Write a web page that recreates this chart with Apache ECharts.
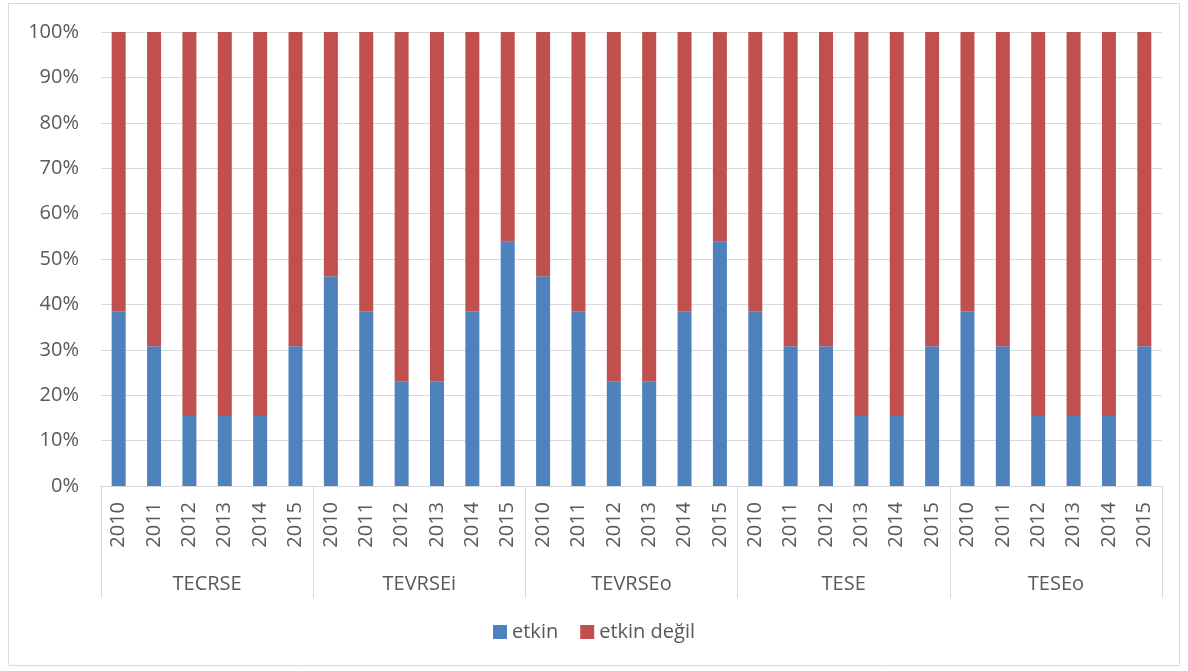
<!DOCTYPE html>
<html>
<head>
<meta charset="utf-8">
<script src="https://cdn.jsdelivr.net/npm/echarts@6/dist/echarts.min.js"></script>
<style>html,body{margin:0;padding:0;background:#fff}#c{width:1188px;height:671px}</style>
</head>
<body>
<div id="c"></div>
<script>
var groups = ['TECRSE', 'TEVRSEi', 'TEVRSEo', 'TESE', 'TESEo'];
var years = ['2010', '2011', '2012', '2013', '2014', '2015'];
var yTicks = ['0%', '10%', '20%', '30%', '40%', '50%', '60%', '70%', '80%', '90%', '100%'];
var etkin = [
  38.5, 30.8, 15.4, 15.4, 15.4, 30.8,
  46.2, 38.5, 23.1, 23.1, 38.5, 53.8,
  46.2, 38.5, 23.1, 23.1, 38.5, 53.8,
  38.5, 30.8, 30.8, 15.4, 15.4, 30.8,
  38.5, 30.8, 15.4, 15.4, 15.4, 30.8
];
var etkinDegil = [
  61.5, 69.2, 84.6, 84.6, 84.6, 69.2,
  53.8, 61.5, 76.9, 76.9, 61.5, 46.2,
  53.8, 61.5, 76.9, 76.9, 61.5, 46.2,
  61.5, 69.2, 69.2, 84.6, 84.6, 69.2,
  61.5, 69.2, 84.6, 84.6, 84.6, 69.2
];
var seriesNames = ['etkin', 'etkin değil'];

var cats = [];
groups.forEach(function (g) { years.forEach(function (y) { cats.push(y); }); });

var font = 'Open Sans';
var txt = '#595959';
var fs = 20;
var chart = echarts.init(document.getElementById('c'));
chart.setOption({
  animation: false,
  textStyle: { fontFamily: font },
  graphic: [{
    type: 'rect', shape: { x: 8.5, y: 3.5, width: 1171, height: 662 },
    style: { fill: 'none', stroke: '#D9D9D9', lineWidth: 1 }, silent: true
  }],
  grid: { left: 101, right: 26, top: 32, bottom: 185 },
  legend: {
    data: seriesNames, bottom: 24, left: 'center',
    icon: 'rect', itemWidth: 14, itemHeight: 14, itemGap: 22,
    textStyle: { fontFamily: font, fontSize: fs, color: txt }
  },
  xAxis: [{
    type: 'category', data: cats, position: 'bottom',
    axisLine: { lineStyle: { color: '#D9D9D9' } },
    axisTick: { show: false },
    axisLabel: { rotate: 90, interval: 0, fontSize: fs, color: txt, margin: 16, fontFamily: font }
  }, {
    type: 'category', data: groups, position: 'bottom',
    axisLine: { lineStyle: { color: '#D9D9D9' } },
    axisTick: { show: true, length: 112, lineStyle: { color: '#D9D9D9' } },
    axisLabel: { interval: 0, fontSize: fs, color: txt, margin: 88, fontFamily: font }
  }],
  yAxis: {
    type: 'value', min: 0, max: 100, interval: 10,
    axisLine: { show: false }, axisTick: { show: false },
    splitLine: { lineStyle: { color: '#D9D9D9' } },
    axisLabel: {
      fontSize: fs, color: txt, margin: 22, fontFamily: font,
      formatter: function (v) { return yTicks[Math.round(v / 10)]; }
    }
  },
  series: [{
    name: seriesNames[0], type: 'bar', stack: 's', data: etkin, xAxisIndex: 0,
    barWidth: 14, itemStyle: { color: '#4F81BD' }
  }, {
    name: seriesNames[1], type: 'bar', stack: 's', data: etkinDegil, xAxisIndex: 0,
    barWidth: 14, itemStyle: { color: '#C0504D' }
  }]
});
</script>
</body>
</html>
